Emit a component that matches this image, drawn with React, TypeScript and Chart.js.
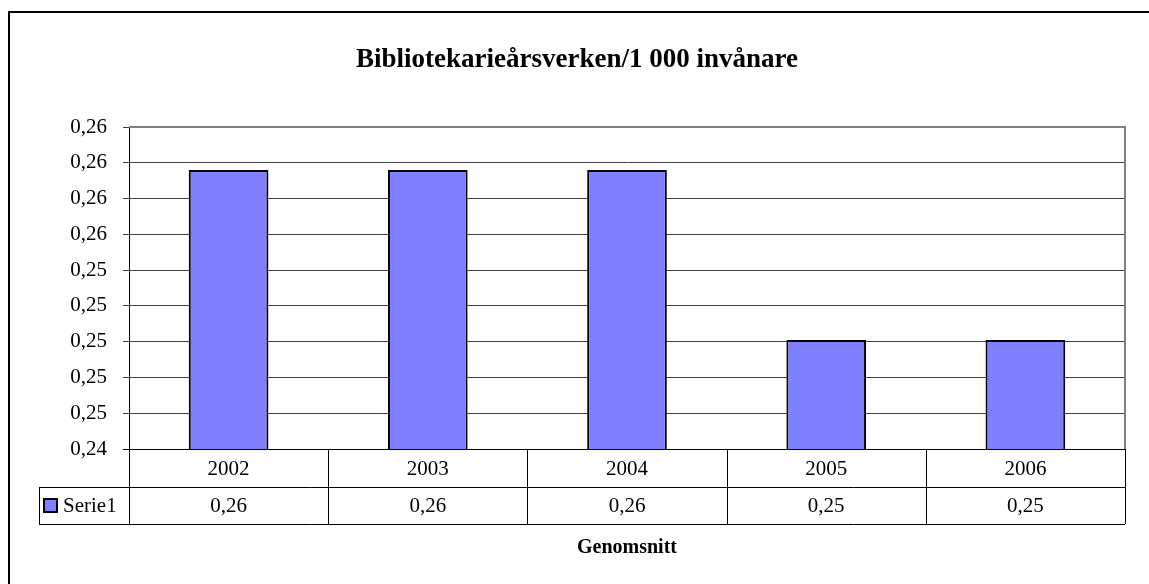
import React, { useEffect, useRef } from "react";
import { Chart, registerables } from "chart.js";

Chart.register(...registerables);

const categories = ["2002", "2003", "2004", "2005", "2006"];
const seriesName = "Serie1";
const values = [0.2596, 0.2596, 0.2596, 0.2501, 0.2501];
const tableLabels = ["0,26", "0,26", "0,26", "0,25", "0,25"];
const yMin = 0.244;
const yMax = 0.262;
const yStep = 0.002;
const title = "Bibliotekarieårsverken/1 000 invånare";
const xTitle = "Genomsnitt";

const FONT = "'Liberation Serif', 'Times New Roman', serif";
const BAR_FILL = "#8080FF";

const decorPlugin = {
  id: "decor",
  beforeDraw(chart: any) {
    const ctx = chart.ctx;
    ctx.save();
    ctx.fillStyle = "#ffffff";
    ctx.fillRect(0, 0, chart.width, chart.height);
    // outer frame
    ctx.strokeStyle = "#000000";
    ctx.lineWidth = 2;
    ctx.beginPath();
    ctx.moveTo(9, chart.height + 5);
    ctx.lineTo(9, 12);
    ctx.lineTo(chart.width + 5, 12);
    ctx.stroke();
    // title
    ctx.fillStyle = "#000000";
    ctx.font = `bold 27px ${FONT}`;
    ctx.textAlign = "center";
    ctx.textBaseline = "middle";
    ctx.fillText(title, 577, 60);
    ctx.restore();
  },
  afterDatasetsDraw(chart: any) {
    const ctx = chart.ctx;
    const area = chart.chartArea;
    const xs = chart.scales.x;
    const n = categories.length;
    const catW = (area.right - area.left) / n;
    const row1Top = area.bottom;
    const row1Bot = area.bottom + 38;
    const row2Bot = row1Bot + 37;
    const leftCol = 39;
    ctx.save();
    // plot border (gray top/right)
    ctx.strokeStyle = "#808080";
    ctx.lineWidth = 2;
    ctx.beginPath();
    ctx.moveTo(area.left, area.top);
    ctx.lineTo(area.right, area.top);
    ctx.lineTo(area.right, area.bottom);
    ctx.stroke();
    // table lines
    ctx.strokeStyle = "#000000";
    ctx.lineWidth = 1;
    ctx.beginPath();
    ctx.moveTo(area.left - 6, Math.round(row1Top) + 0.5);
    ctx.lineTo(area.right, Math.round(row1Top) + 0.5);
    ctx.moveTo(leftCol, Math.round(row1Bot) + 0.5);
    ctx.lineTo(area.right, Math.round(row1Bot) + 0.5);
    ctx.moveTo(leftCol, Math.round(row2Bot) + 0.5);
    ctx.lineTo(area.right, Math.round(row2Bot) + 0.5);
    ctx.moveTo(leftCol + 0.5, row1Bot);
    ctx.lineTo(leftCol + 0.5, row2Bot);
    for (let i = 0; i <= n; i++) {
      const x = Math.round(area.left + i * catW) + 0.5;
      ctx.moveTo(x, row1Top);
      ctx.lineTo(x, row2Bot);
    }
    ctx.stroke();
    // texts
    ctx.fillStyle = "#000000";
    ctx.font = `21px ${FONT}`;
    ctx.textAlign = "center";
    ctx.textBaseline = "middle";
    for (let i = 0; i < n; i++) {
      const cx = xs.getPixelForValue(i);
      ctx.fillText(categories[i], cx, (row1Top + row1Bot) / 2 + 1);
      ctx.fillText(tableLabels[i], cx, (row1Bot + row2Bot) / 2 + 1);
    }
    // legend key
    const ky = (row1Bot + row2Bot) / 2;
    ctx.fillStyle = BAR_FILL;
    ctx.fillRect(44, ky - 6.5, 13, 13);
    ctx.strokeStyle = "#000000";
    ctx.lineWidth = 2;
    ctx.strokeRect(44, ky - 6.5, 13, 13);
    ctx.fillStyle = "#000000";
    ctx.textAlign = "left";
    ctx.fillText(seriesName, 63, ky + 1);
    // x title
    ctx.font = `bold 20px ${FONT}`;
    ctx.textAlign = "center";
    ctx.fillText(xTitle, (area.left + area.right) / 2, 548);
    ctx.restore();
  },
};

export default function App() {
  const ref = useRef<HTMLCanvasElement | null>(null);
  useEffect(() => {
    if (!ref.current) return;
    const chart = new Chart(ref.current, {
      type: "bar",
      data: {
        labels: categories,
        datasets: [
          {
            label: seriesName,
            data: values,
            backgroundColor: BAR_FILL,
            borderColor: "#000000",
            borderWidth: 2,
            borderSkipped: false,
            barPercentage: 0.4,
            categoryPercentage: 1,
          },
        ],
      },
      options: {
        responsive: false,
        animation: false,
        layout: { padding: { left: 0, right: 24, top: 127, bottom: 135 } },
        plugins: {
          legend: { display: false },
          title: { display: false },
          tooltip: { enabled: false },
        },
        scales: {
          x: { display: false },
          y: {
            min: yMin,
            max: yMax,
            afterFit: (scale: any) => {
              scale.width = 129;
            },
            ticks: {
              stepSize: yStep,
              padding: 16,
              color: "#000000",
              font: { family: FONT, size: 21 },
              callback: (v: any) => Number(v).toFixed(2).replace(".", ","),
            },
            grid: {
              color: "#404040",
              tickLength: 6,
              lineWidth: 1,
            },
            border: { display: true, color: "#000000", width: 1 },
          },
        },
      },
      plugins: [decorPlugin],
    });
    return () => chart.destroy();
  }, []);
  return (
    <div style={{ position: "fixed", left: 0, top: 0, width: 1149, height: 584 }}>
      <canvas ref={ref} width={1149} height={584} />
    </div>
  );
}
